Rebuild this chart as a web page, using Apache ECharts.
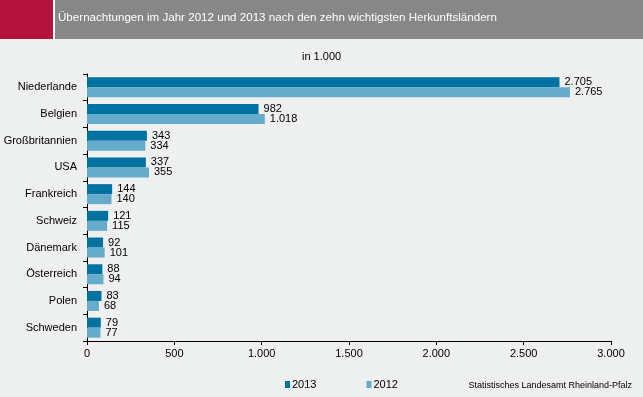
<!DOCTYPE html>
<html>
<head>
<meta charset="utf-8">
<script src="https://cdn.jsdelivr.net/npm/echarts@6/dist/echarts.min.js"></script>
<style>
  html, body { margin: 0; padding: 0; background: #eeefef; }
  #chart { width: 643px; height: 397px; }
</style>
</head>
<body>
<div id="chart"></div>
<script>
// Übernachtungen in 1.000
var laender = ["Niederlande", "Belgien", "Großbritannien", "USA", "Frankreich", "Schweiz", "Dänemark", "Österreich", "Polen", "Schweden"];
var werte2013 = [2705, 982, 343, 337, 144, 121, 92, 88, 83, 79];
var werte2012 = [2765, 1018, 334, 355, 140, 115, 101, 94, 68, 77];
var xTicks = [0, 500, 1000, 1500, 2000, 2500, 3000];

var font = "Liberation Sans, Arial, sans-serif";

function deFormat(v) {
	return String(v).replace(/\B(?=(\d{3})+(?!\d))/g, ".");
}

var myChart = echarts.init(document.getElementById("chart"));

var barLabel = {
	show: true,
	position: "right",
	distance: 5,
	color: "#000",
	fontFamily: font,
	fontSize: 11,
	formatter: function (p) {
		return deFormat(p.value);
	}
};

var option = {
	backgroundColor: "#eeefef",
	animation: false,
	graphic: [
		{ type: "rect", shape: { x: 0, y: 0, width: 53, height: 39 }, style: { fill: "#b5123e" } },
		{ type: "rect", shape: { x: 53, y: 0, width: 2, height: 39 }, style: { fill: "#ffffff" } },
		{ type: "rect", shape: { x: 55, y: 0, width: 588, height: 39 }, style: { fill: "#878787" } },
		{
			type: "text", left: 58, top: 12,
			style: { text: "Übernachtungen im Jahr 2012 und 2013 nach den zehn wichtigsten Herkunftsländern", fill: "#fff", font: "11.6px " + font }
		},
		{
			type: "text", left: 302, top: 51,
			style: { text: "in 1.000", fill: "#000", font: "11px " + font }
		},
		{
			type: "text", right: 11, top: 381,
			style: { text: "Statistisches Landesamt Rheinland-Pfalz", fill: "#000", font: "9px " + font }
		}
	],
	legend: {
		left: 280,
		top: 374,
		itemWidth: 5,
		itemHeight: 7,
		itemGap: 50,
		icon: "rect",
		textStyle: { color: "#000", fontFamily: font, fontSize: 11, padding: [0, 0, 0, -3] },
		data: ["2013", "2012"]
	},
	grid: { left: 87, right: 32, top: 74, bottom: 56 },
	xAxis: {
		type: "value",
		min: 0,
		max: 3000,
		interval: 500,
		axisLine: { show: true, lineStyle: { color: "#000" } },
		axisTick: { show: true, length: 4, lineStyle: { color: "#000" } },
		splitLine: { show: false },
		axisLabel: {
			color: "#000",
			fontFamily: font,
			fontSize: 11,
			margin: 7,
			formatter: function (v) {
				return xTicks.indexOf(v) >= 0 ? deFormat(v) : "";
			}
		}
	},
	yAxis: {
		type: "category",
		inverse: true,
		data: laender,
		axisLine: { show: true, lineStyle: { color: "#000" } },
		axisTick: { show: true, length: 4, lineStyle: { color: "#000" } },
		axisLabel: { color: "#000", fontFamily: font, fontSize: 11, margin: 10 }
	},
	series: [
		{
			name: "2013",
			type: "bar",
			data: werte2013,
			barWidth: 10,
			barGap: "0%",
			itemStyle: { color: "#0072a2" },
			label: barLabel
		},
		{
			name: "2012",
			type: "bar",
			data: werte2012,
			barWidth: 10,
			itemStyle: { color: "#66acca" },
			label: barLabel
		}
	]
};

myChart.setOption(option);
</script>
</body>
</html>
